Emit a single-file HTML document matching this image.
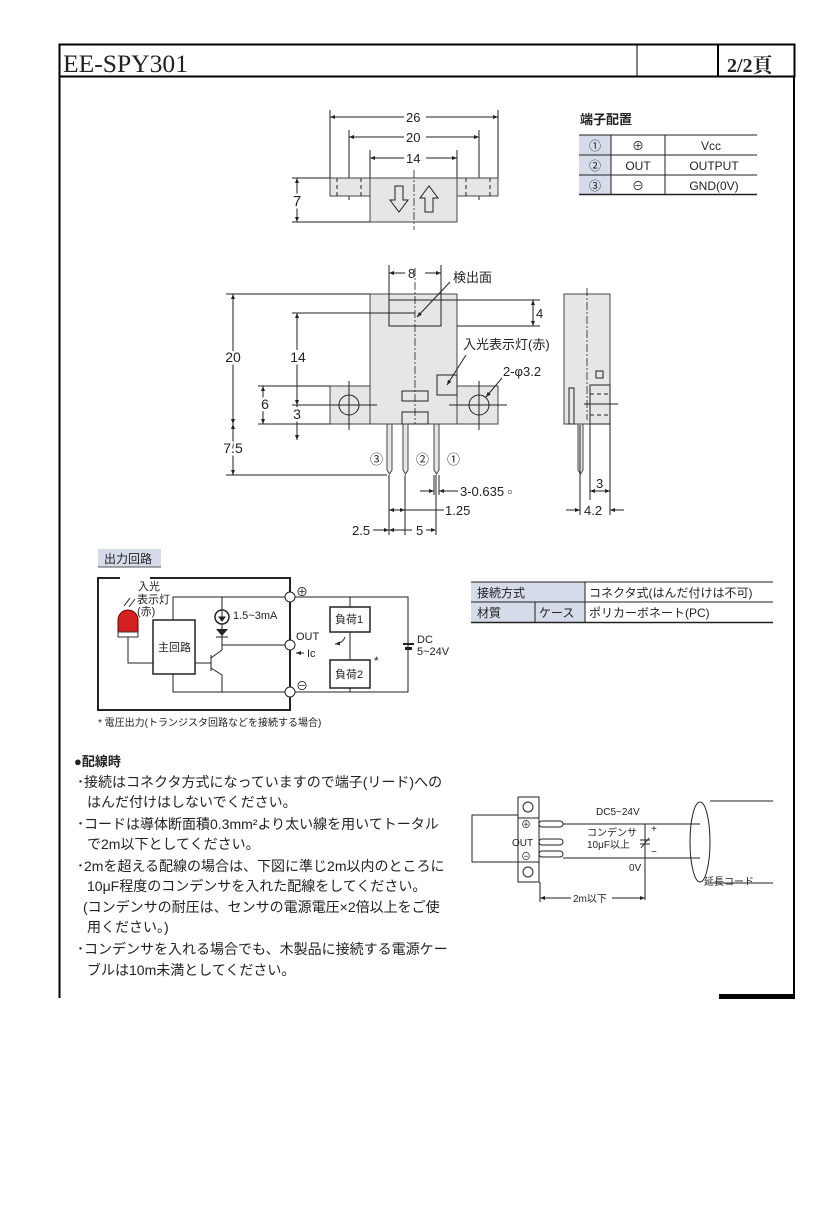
<!DOCTYPE html>
<html><head><meta charset="utf-8"><style>
html,body{margin:0;padding:0;background:#fff}
svg{display:block}
text{font-family:"Liberation Sans","Noto Sans CJK JP",sans-serif;fill:#222}
.h{stroke:#fff;stroke-width:5;paint-order:stroke}
.s{stroke:#222;stroke-width:1;fill:none}
.b{fill:#e6e6e6;stroke:#444;stroke-width:1}
.d{stroke:#222;stroke-width:1;stroke-dasharray:4 3;fill:none}
.c{stroke:#222;stroke-width:0.8;stroke-dasharray:8 2 2 2;fill:none}
</style></head><body>
<svg width="827" height="1205" viewBox="0 0 827 1205" xmlns="http://www.w3.org/2000/svg">
<defs>
<marker id="a" viewBox="0 0 10 10" refX="10" refY="5" markerWidth="7" markerHeight="5" orient="auto-start-reverse"><path d="M0,1 L10,5 L0,9z" fill="#222"/></marker>
</defs>
<!-- frame -->
<rect x="59.5" y="44.5" width="735" height="32" fill="none" stroke="#000" stroke-width="2"/>
<line x1="637" y1="44" x2="637" y2="76" stroke="#000" stroke-width="1"/>
<line x1="718" y1="44" x2="718" y2="76" stroke="#000" stroke-width="2"/>
<line x1="59.5" y1="76" x2="59.5" y2="998" stroke="#000" stroke-width="2"/>
<line x1="794" y1="76" x2="794" y2="998" stroke="#000" stroke-width="2"/>
<rect x="719" y="994" width="76" height="5" fill="#000"/>
<text x="63" y="72" style="font-family:'Liberation Serif','Noto Serif CJK SC',serif;font-size:25px" fill="#000" textLength="125" lengthAdjust="spacingAndGlyphs">EE-SPY301</text>
<text x="727" y="72" style="font-family:'Liberation Serif','Noto Serif CJK SC',serif;font-size:20px;font-weight:bold" fill="#000">2/2頁</text>

<!-- top view -->
<g font-size="13">
<line class="s" x1="330" y1="110" x2="330" y2="178"/><line class="s" x1="498" y1="110" x2="498" y2="178"/>
<line class="s" x1="349" y1="130" x2="349" y2="200"/><line class="s" x1="479" y1="130" x2="479" y2="200"/>
<line class="s" x1="370" y1="150" x2="370" y2="178"/><line class="s" x1="457" y1="150" x2="457" y2="178"/>
<line class="s" x1="330" y1="117" x2="404" y2="117" marker-start="url(#a)"/><line class="s" x1="426" y1="117" x2="498" y2="117" marker-end="url(#a)"/><text x="406" y="122">26</text>
<line class="s" x1="349" y1="137" x2="404" y2="137" marker-start="url(#a)"/><line class="s" x1="426" y1="137" x2="479" y2="137" marker-end="url(#a)"/><text x="406" y="142">20</text>
<line class="s" x1="370" y1="158" x2="404" y2="158" marker-start="url(#a)"/><line class="s" x1="426" y1="158" x2="457" y2="158" marker-end="url(#a)"/><text x="406" y="163">14</text>
<rect class="b" x="330" y="178" width="40" height="18"/><rect class="b" x="457" y="178" width="41" height="18"/>
<line class="d" x1="337" y1="178" x2="337" y2="196"/><line class="d" x1="361" y1="178" x2="361" y2="196"/>
<line class="d" x1="466" y1="178" x2="466" y2="196"/><line class="d" x1="490" y1="178" x2="490" y2="196"/>
<rect class="b" x="370" y="178" width="87" height="44" fill="#e8e8e8"/>
<line class="c" x1="414" y1="170" x2="414" y2="230"/>
<path class="s" d="M395,186 h8 v14 h5 l-9,12 l-9,-12 h5z"/>
<path class="s" d="M425,212 h8 v-14 h5 l-9,-12 l-9,12 h5z"/>
<line class="s" x1="292" y1="178" x2="330" y2="178"/><line class="s" x1="292" y1="222" x2="370" y2="222"/>
<line class="s" x1="297" y1="178" x2="297" y2="222" marker-start="url(#a)" marker-end="url(#a)"/>
<text x="297" y="206" font-size="15" text-anchor="middle" class="h">7</text>
</g>

<!-- terminal table -->
<text x="580" y="124" font-size="13" font-weight="bold">端子配置</text>
<rect x="579" y="135" width="32" height="59" fill="#d6dbea"/>
<g stroke="#222" stroke-width="1">
<line x1="579" y1="135" x2="757" y2="135"/><line x1="579" y1="155" x2="757" y2="155"/><line x1="579" y1="175" x2="757" y2="175"/><line x1="579" y1="194.5" x2="757" y2="194.5" stroke-width="1.5"/>
<line x1="611" y1="135" x2="611" y2="194"/><line x1="665" y1="135" x2="665" y2="194"/>
</g>
<g font-size="12" text-anchor="middle">
<text x="595" y="150">①</text><text x="595" y="170">②</text><text x="595" y="190">③</text>
<text x="638" y="150">⊕</text><text x="638" y="170">OUT</text><text x="638" y="190">⊖</text>
<text x="711" y="150">Vcc</text><text x="714" y="170">OUTPUT</text><text x="714" y="190">GND(0V)</text>
</g>

<!-- front view -->
<g font-size="13">
<rect class="b" x="370" y="294" width="87" height="130"/>
<rect class="b" x="330" y="386" width="40" height="38"/><rect class="b" x="457" y="386" width="41" height="38"/>
<rect class="s" x="389" y="300" width="52" height="26"/>
<circle class="s" cx="349" cy="405" r="10"/><circle class="s" cx="479" cy="405" r="10"/>
<line class="s" x1="319" y1="405" x2="377" y2="405"/><line class="s" x1="449" y1="405" x2="507" y2="405"/>
<line class="s" x1="349" y1="381" x2="349" y2="430"/><line class="s" x1="479" y1="381" x2="479" y2="430"/>
<rect class="s" x="402" y="391" width="26" height="10"/><rect class="s" x="402" y="412" width="26" height="12"/>
<rect class="s" x="437" y="375" width="20" height="20"/>
<line class="c" x1="415" y1="268" x2="415" y2="424"/>
<line class="s" x1="389" y1="265" x2="389" y2="300"/><line class="s" x1="441" y1="265" x2="441" y2="300"/>
<line class="s" x1="389" y1="273" x2="405" y2="273" marker-start="url(#a)"/><line class="s" x1="425" y1="273" x2="441" y2="273" marker-end="url(#a)"/><text x="408" y="278">8</text>
<line class="s" x1="417" y1="317" x2="450" y2="282" marker-start="url(#a)"/><text x="453" y="282">検出面</text>
<line class="s" x1="441" y1="300" x2="540" y2="300"/><line class="s" x1="457" y1="326" x2="540" y2="326"/>
<line class="s" x1="533" y1="300" x2="533" y2="326" marker-start="url(#a)" marker-end="url(#a)"/><text x="536" y="318">4</text>
<line class="s" x1="447" y1="385" x2="466" y2="355" marker-start="url(#a)"/><text x="463" y="349">入光表示灯(赤)</text>
<line class="s" x1="486" y1="397" x2="502" y2="378" marker-start="url(#a)"/><text x="503" y="376">2-φ3.2</text>
<line class="s" x1="226" y1="294" x2="370" y2="294"/>
<line class="s" x1="292" y1="313" x2="415" y2="313"/>
<line class="s" x1="258" y1="386" x2="330" y2="386"/>
<line class="s" x1="258" y1="424" x2="330" y2="424"/>
<line class="s" x1="292" y1="405" x2="330" y2="405"/>
<line class="s" x1="226" y1="475" x2="387" y2="475"/>
<line class="s" x1="233" y1="294" x2="233" y2="424" marker-start="url(#a)" marker-end="url(#a)"/><text x="233" y="362" font-size="14" text-anchor="middle" class="h">20</text>
<line class="s" x1="233" y1="424" x2="233" y2="475" marker-start="url(#a)" marker-end="url(#a)"/><text x="233" y="453" font-size="14" text-anchor="middle" class="h">7.5</text>
<line class="s" x1="297" y1="313" x2="297" y2="405" marker-start="url(#a)" marker-end="url(#a)"/><text x="298" y="362" font-size="14" text-anchor="middle" class="h">14</text>
<line class="s" x1="263" y1="386" x2="263" y2="424" marker-start="url(#a)" marker-end="url(#a)"/><text x="265" y="409" font-size="14" text-anchor="middle" class="h">6</text>
<line class="s" x1="297" y1="405" x2="297" y2="440" marker-end="url(#a)" marker-start="url(#a)"/><text x="297" y="419" font-size="14" text-anchor="middle" class="h">3</text>
<g fill="#e6e6e6" stroke="#444">
<path d="M387,424 v46 l2.5,4 l2.5,-4 v-46z"/><path d="M403,424 v46 l2.5,4 l2.5,-4 v-46z"/><path d="M434,424 v46 l2.5,4 l2.5,-4 v-46z"/>
</g>
<text x="370" y="464" font-size="13">③</text><text x="416" y="464" font-size="13">②</text><text x="447" y="464" font-size="13">①</text>
<line class="s" x1="389" y1="475" x2="389" y2="535"/><line class="s" x1="405" y1="475" x2="405" y2="535"/><line class="s" x1="436" y1="475" x2="436" y2="535"/>
<line class="s" x1="434" y1="475" x2="434" y2="495"/><line class="s" x1="439" y1="475" x2="439" y2="495"/>
<line class="s" x1="420" y1="491" x2="434" y2="491" marker-end="url(#a)"/><line class="s" x1="458" y1="491" x2="439" y2="491" marker-end="url(#a)"/><text x="460" y="496">3-0.635 ▫</text>
<line class="s" x1="389" y1="510" x2="405" y2="510" marker-start="url(#a)" marker-end="url(#a)"/><line class="s" x1="405" y1="510" x2="444" y2="510"/><text x="445" y="515">1.25</text>
<line class="s" x1="373" y1="530" x2="389" y2="530" marker-end="url(#a)"/><text x="352" y="535">2.5</text>
<line class="s" x1="389" y1="530" x2="412" y2="530" marker-start="url(#a)"/><text x="416" y="535">5</text><line class="s" x1="426" y1="530" x2="436" y2="530" marker-end="url(#a)"/>
</g>

<!-- side view -->
<g font-size="13">
<rect class="b" x="564" y="294" width="46" height="130"/>
<rect class="s" x="590" y="385" width="20" height="39"/>
<line class="d" x1="590" y1="394" x2="610" y2="394"/><line class="d" x1="590" y1="415" x2="610" y2="415"/>
<line class="s" x1="584" y1="404" x2="618" y2="404"/>
<rect class="s" x="596" y="371" width="7" height="7"/>
<rect class="s" x="569" y="388" width="5" height="36"/>
<line class="c" x1="587" y1="288" x2="587" y2="420"/>
<path d="M578,424 v46 l2.5,4 l2.5,-4 v-46z" fill="#e6e6e6" stroke="#444"/>
<line class="s" x1="580" y1="425" x2="580" y2="515"/><line class="s" x1="590" y1="424" x2="590" y2="500"/><line class="s" x1="610" y1="424" x2="610" y2="515"/>
<line class="s" x1="590" y1="491" x2="610" y2="491" marker-start="url(#a)" marker-end="url(#a)"/><text x="596" y="488">3</text>
<line class="s" x1="566" y1="510" x2="580" y2="510" marker-end="url(#a)"/><text x="584" y="515">4.2</text><line class="s" x1="624" y1="510" x2="610" y2="510" marker-end="url(#a)"/>
</g>

<!-- output circuit -->
<rect x="98" y="549" width="63" height="18" fill="#d6dbea"/>
<line x1="98" y1="567" x2="161" y2="567" stroke="#555"/>
<text x="104" y="563" font-size="12">出力回路</text>
<g font-size="11">
<path d="M120,578 H98 V710 H290 V578 H150" stroke="#222" stroke-width="2" fill="none"/>
<path d="M150,578 H290" stroke="#222" stroke-width="2" stroke-dasharray="10 4" fill="none"/>
<path d="M98,590 V700" stroke="#222" stroke-width="2" stroke-dasharray="10 4" fill="none"/>
<path d="M118,632 v-12 a10,10 0 0 1 20,0 v12z" fill="#d42020" stroke="#600"/>
<rect x="118" y="632" width="20" height="5" fill="#fff" stroke="#333"/>
<text x="138" y="590">入光</text><text x="137" y="603">表示灯</text><text x="137" y="615">(赤)</text>
<path d="M124,606 l6,-8 M129,607 l6,-8" stroke="#222"/>
<rect x="153" y="620" width="42" height="54" fill="#fff" stroke="#222" stroke-width="1.5"/>
<text x="158" y="651">主回路</text>
<path class="s" d="M128,637 V663 H153"/>
<path class="s" d="M173,620 V597 H285 M173,674 V692 H285"/>
<circle cx="290" cy="597" r="5" fill="#fff" stroke="#222"/><circle cx="290" cy="645" r="5" fill="#fff" stroke="#222"/><circle cx="290" cy="692" r="5" fill="#fff" stroke="#222"/>
<circle cx="222" cy="617" r="7" fill="#fff" stroke="#222" stroke-width="1.5"/>
<path d="M222,611 v9 M219,617 l3,4 l3,-4z" stroke="#222" fill="#222"/>
<text x="233" y="619">1.5~3mA</text>
<path class="s" d="M222,597 V610 M222,624 V645"/>
<path d="M216,629 h12 l-6,7z" fill="#222"/><line x1="216" y1="637" x2="228" y2="637" stroke="#222"/>
<path class="s" d="M222,645 H285 M195,663 H211 M211,655 V671 M211,658 L222,650 V645 M211,668 L222,675 V692"/>
<text x="296" y="640">OUT</text>
<text x="296" y="596" font-size="12">⊕</text><text x="296" y="690" font-size="12">⊖</text>
<path class="s" d="M296,653 h8" marker-start="url(#a)"/><text x="307" y="657">Ic</text>
<path class="s" d="M295,597 H408 V692 H295"/>
<rect x="330" y="607" width="40" height="25" fill="#fff" stroke="#222" stroke-width="1.5"/><text x="335" y="623">負荷1</text>
<rect x="330" y="660" width="40" height="28" fill="#fff" stroke="#222" stroke-width="1.5"/><text x="335" y="678">負荷2</text>
<path class="s" d="M350,597 V607 M350,632 V660 M350,688 V692"/>
<path class="s" d="M345,637 q-2,6 -10,7" marker-end="url(#a)"/>
<text x="374" y="665" font-size="12">*</text>
<rect x="403" y="643" width="11" height="2" fill="#222"/><rect x="405" y="647" width="7" height="3" fill="#222"/>
<text x="417" y="643">DC</text><text x="417" y="655">5~24V</text>
<text x="98" y="726" font-size="10">* 電圧出力(トランジスタ回路などを接続する場合)</text>
</g>

<!-- spec table -->
<rect x="471" y="582" width="114" height="40" fill="#d6dbea"/>
<g stroke="#222"><line x1="471" y1="582" x2="773" y2="582"/><line x1="471" y1="602" x2="773" y2="602"/><line x1="471" y1="622.5" x2="773" y2="622.5" stroke-width="1.5"/>
<line x1="585" y1="582" x2="585" y2="622"/><line x1="535" y1="602" x2="535" y2="622"/></g>
<g font-size="12"><text x="477" y="597">接続方式</text><text x="589" y="597">コネクタ式(はんだ付けは不可)</text>
<text x="477" y="617">材質</text><text x="539" y="617">ケース</text><text x="589" y="617">ポリカーボネート(PC)</text></g>

<!-- text -->
<g font-size="14">
<text x="74" y="766" font-weight="bold" font-size="13">●配線時</text>
<text x="77" y="787">･接続はコネクタ方式になっていますので端子(リード)への</text>
<text x="87" y="807">はんだ付けはしないでください。</text>
<text x="77" y="829">･コードは導体断面積0.3mm²より太い線を用いてトータル</text>
<text x="87" y="849">で2m以下としてください。</text>
<text x="77" y="871">･2mを超える配線の場合は、下図に準じ2m以内のところに</text>
<text x="87" y="891">10μF程度のコンデンサを入れた配線をしてください。</text>
<text x="83" y="912">(コンデンサの耐圧は、センサの電源電圧×2倍以上をご使</text>
<text x="87" y="932">用ください。)</text>
<text x="77" y="954">･コンデンサを入れる場合でも、木製品に接続する電源ケー</text>
<text x="87" y="975">ブルは10m未満としてください。</text>
</g>

<!-- wiring diagram -->
<g font-size="10">
<rect x="472" y="815" width="67" height="47" fill="#fff" stroke="#222"/>
<rect x="518" y="797" width="21" height="85" fill="#fff" stroke="#222"/>
<line x1="518" y1="818" x2="539" y2="818" stroke="#222"/><line x1="518" y1="862" x2="539" y2="862" stroke="#222"/>
<circle cx="528" cy="807" r="5" class="s"/><circle cx="528" cy="872" r="5" class="s"/>
<g fill="#fff" stroke="#222"><rect x="539" y="821" width="24" height="6" rx="3"/><rect x="539" y="839" width="24" height="6" rx="3"/><rect x="539" y="851" width="24" height="6" rx="3"/></g>
<text x="521" y="828">⊕</text><text x="512" y="846">OUT</text><text x="521" y="860">⊖</text>
<line class="s" x1="563" y1="824" x2="700" y2="824"/><line class="s" x1="563" y1="858" x2="700" y2="858"/>
<line class="s" x1="645" y1="824" x2="645" y2="900"/>
<path class="s" d="M640,840 h10 M640,844 h10 M641,848 l8,-10"/>
<text x="651" y="832">+</text><text x="651" y="855">−</text>
<text x="596" y="815">DC5~24V</text><text x="587" y="836">コンデンサ</text><text x="587" y="848">10μF以上</text><text x="629" y="871">0V</text>
<path class="s" d="M710,801 H773 M710,883 H773"/>
<ellipse class="s" cx="700" cy="842" rx="10" ry="40"/>
<text x="704" y="885">延長コード</text>
<line class="s" x1="540" y1="882" x2="540" y2="902"/>
<line class="s" x1="540" y1="898" x2="571" y2="898" marker-start="url(#a)"/><line class="s" x1="612" y1="898" x2="645" y2="898" marker-end="url(#a)"/>
<text x="573" y="902">2m以下</text>
</g>
</svg>
</body></html>
